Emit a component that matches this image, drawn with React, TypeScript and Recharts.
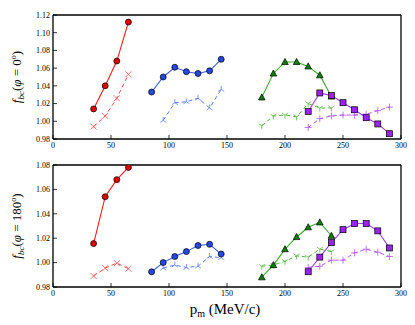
import { LineChart, Line, XAxis, YAxis, Label } from "recharts";

// momentum bins (MeV/c)
const redX = [35, 45, 55, 65];
const blueX = [85, 95, 105, 115, 125, 135, 145];
const blueDashX = [95, 105, 115, 125, 135, 145];
const greenX = [180, 190, 200, 210, 220, 230, 240];
const purpleX = [220, 230, 240, 250, 260, 270, 280, 290];

// phi = 0
const redSolid0 = [1.014, 1.04, 1.068, 1.112];
const redDash0 = [0.994, 1.006, 1.026, 1.053];
const blueSolid0 = [1.033, 1.05, 1.061, 1.056, 1.054, 1.057, 1.07];
const blueDash0 = [1.001, 1.021, 1.022, 1.026, 1.015, 1.036];
const greenSolid0 = [1.027, 1.054, 1.067, 1.067, 1.062, 1.052, 1.028];
const greenDash0 = [0.995, 1.006, 1.007, 1.005, 1.02, 1.015, 1.015];
const purpleSolid0 = [1.011, 1.032, 1.029, 1.021, 1.013, 1.004, 0.997, 0.986];
const purpleDash0 = [0.993, 1.003, 1.006, 1.007, 1.007, 1.008, 1.012, 1.016];

// phi = 180
const redSolid180 = [1.0156, 1.054, 1.068, 1.078];
const redDash180 = [0.989, 0.9955, 0.9996, 0.995];
const blueSolid180 = [0.9925, 1.0, 1.005, 1.009, 1.014, 1.015, 1.007];
const blueDash180 = [0.9955, 0.998, 0.996, 0.997, 1.005, 1.004];
const greenSolid180 = [0.988, 0.998, 1.011, 1.021, 1.029, 1.033, 1.022];
const greenDash180 = [0.997, 0.998, 1.001, 1.0055, 1.0045, 1.011, 1.009];
const purpleSolid180 = [0.9925, 1.0045, 1.0164, 1.027, 1.032, 1.032, 1.026, 1.012];
const purpleDash180 = [0.996, 0.997, 1.002, 1.002, 1.008, 1.011, 1.0085, 1.005];

const xTicks = [0, 50, 100, 150, 200, 250, 300];
const yTicksTop = [0.98, 1.0, 1.02, 1.04, 1.06, 1.08, 1.1, 1.12];
const yTicksBottom = [0.98, 1.0, 1.02, 1.04, 1.06, 1.08];

const rows = (xs: number[], ys: number[]) => xs.map((x, i) => ({ x, y: ys[i] }));

const FONT = "Liberation Serif";
const tickStyle = { fontFamily: FONT, fontSize: 8, fill: "#000" };

const circle = (fill: string) => (p: any) => (
  <circle key={p.index} cx={p.cx} cy={p.cy} r={3} fill={fill} stroke="#000" strokeWidth={0.7} />
);
const square = (fill: string) => (p: any) => (
  <rect key={p.index} x={p.cx - 3} y={p.cy - 3} width={6} height={6} fill={fill} stroke="#000" strokeWidth={0.7} />
);
const triangle = (fill: string) => (p: any) => (
  <polygon
    key={p.index}
    points={`${p.cx},${p.cy - 3.5} ${p.cx - 3.3},${p.cy + 2.6} ${p.cx + 3.3},${p.cy + 2.6}`}
    fill={fill}
    stroke="#000"
    strokeWidth={0.7}
  />
);
const cross = (color: string) => (p: any) => (
  <path key={p.index} d={`M${p.cx - 3},${p.cy - 3}L${p.cx + 3},${p.cy + 3}M${p.cx - 3},${p.cy + 3}L${p.cx + 3},${p.cy - 3}`} stroke={color} strokeWidth={0.8} fill="none" />
);
const plus = (color: string) => (p: any) => (
  <path key={p.index} d={`M${p.cx - 3.5},${p.cy}L${p.cx + 3.5},${p.cy}M${p.cx},${p.cy - 3.5}L${p.cx},${p.cy + 3.5}`} stroke={color} strokeWidth={0.8} fill="none" />
);
const triUp = (color: string) => (p: any) => (
  <path key={p.index} d={`M${p.cx},${p.cy}L${p.cx},${p.cy - 3.5}M${p.cx},${p.cy}L${p.cx - 3},${p.cy + 2}M${p.cx},${p.cy}L${p.cx + 3},${p.cy + 2}`} stroke={color} strokeWidth={0.8} fill="none" />
);
const triDown = (color: string) => (p: any) => (
  <path key={p.index} d={`M${p.cx},${p.cy}L${p.cx},${p.cy + 3.5}M${p.cx},${p.cy}L${p.cx - 3},${p.cy - 2}M${p.cx},${p.cy}L${p.cx + 3},${p.cy - 2}`} stroke={color} strokeWidth={0.8} fill="none" />
);

const yLabel = (angle: string) => (props: any) => {
  const vb = props.viewBox;
  const cy = vb.y + vb.height / 2;
  return (
    <text transform={`translate(21, ${cy}) rotate(-90)`} textAnchor="middle" fontFamily={FONT} fontSize={13} fill="#000">
      <tspan fontStyle="italic">f</tspan>
      <tspan fontStyle="italic" fontSize={9} dy={3}>bc</tspan>
      <tspan dy={-3}>(</tspan>
      <tspan fontStyle="italic">φ</tspan>
      <tspan>{` = ${angle}`}</tspan>
      <tspan fontSize={8} dy={-5}>o</tspan>
      <tspan dy={5}>)</tspan>
    </text>
  );
};

const xLabel = (props: any) => {
  const vb = props.viewBox;
  return (
    <text x={vb.x + vb.width / 2 - 2} y={vb.y + 27} textAnchor="middle" fontFamily={FONT} fontSize={15} fill="#000">
      <tspan>p</tspan>
      <tspan fontSize={10} dy={3}>m</tspan>
      <tspan dy={-3}> (MeV/c)</tspan>
    </text>
  );
};

type Panel = {
  red: number[]; redD: number[]; blue: number[]; blueD: number[];
  green: number[]; greenD: number[]; purple: number[]; purpleD: number[];
};

function PanelChart({ d, yMax, yTicks, angle, height, xAxisH, showXLabel }: {
  d: Panel; yMax: number; yTicks: number[]; angle: string; height: number; xAxisH: number; showXLabel: boolean;
}) {
  const dash = "4 3";
  return (
    <LineChart width={415} height={height} margin={{ top: 14, right: 13, left: 0, bottom: 0 }}>
      <XAxis
        xAxisId="b"
        dataKey="x"
        type="number"
        domain={[0, 300]}
        ticks={xTicks}
        allowDataOverflow
        height={xAxisH}
        tickSize={-4}
        tickMargin={7}
        tick={tickStyle}
        stroke="#000"
        axisLine={{ stroke: "#000", strokeWidth: 1.3 }}
        tickLine={{ stroke: "#000", strokeWidth: 0.8 }}
        interval={0}
      >
        {showXLabel && <Label content={xLabel} />}
      </XAxis>
      <XAxis
        xAxisId="t"
        orientation="top"
        dataKey="x"
        type="number"
        domain={[0, 300]}
        ticks={xTicks}
        allowDataOverflow
        height={1}
        tickSize={-4}
        tick={false}
        axisLine={{ stroke: "#000", strokeWidth: 1.3 }}
        tickLine={{ stroke: "#000", strokeWidth: 0.8 }}
        interval={0}
      />
      <YAxis
        yAxisId="l"
        type="number"
        domain={[0.98, yMax]}
        ticks={yTicks}
        allowDataOverflow
        width={53}
        tickSize={-4}
        tickMargin={7}
        tick={tickStyle}
        tickFormatter={(v: number) => v.toFixed(2)}
        axisLine={{ stroke: "#000", strokeWidth: 1.3 }}
        tickLine={{ stroke: "#000", strokeWidth: 0.8 }}
        interval={0}
      >
        <Label content={yLabel(angle)} />
      </YAxis>
      <YAxis
        yAxisId="r"
        orientation="right"
        type="number"
        domain={[0.98, yMax]}
        ticks={yTicks}
        allowDataOverflow
        width={1}
        tickSize={-4}
        tick={false}
        axisLine={{ stroke: "#000", strokeWidth: 1.3 }}
        tickLine={{ stroke: "#000", strokeWidth: 0.8 }}
        interval={0}
      />

      <Line xAxisId="b" yAxisId="l" data={rows(redX, d.redD)} dataKey="y" stroke="#ff4a4a" strokeWidth={1} strokeDasharray={dash} dot={cross("#ff4a4a")} isAnimationActive={false} />
      <Line xAxisId="b" yAxisId="l" data={rows(blueDashX, d.blueD)} dataKey="y" stroke="#5b7cff" strokeWidth={1} strokeDasharray={dash} dot={triUp("#5b7cff")} isAnimationActive={false} />
      <Line xAxisId="b" yAxisId="l" data={rows(greenX, d.greenD)} dataKey="y" stroke="#4fb83a" strokeWidth={1} strokeDasharray={dash} dot={triDown("#4fb83a")} isAnimationActive={false} />
      <Line xAxisId="b" yAxisId="l" data={rows(purpleX, d.purpleD)} dataKey="y" stroke="#b555ff" strokeWidth={1} strokeDasharray={dash} dot={plus("#b555ff")} isAnimationActive={false} />

      <Line xAxisId="b" yAxisId="l" data={rows(redX, d.red)} dataKey="y" stroke="#ff1a1a" strokeWidth={1.1} dot={circle("#e00000")} isAnimationActive={false} />
      <Line xAxisId="b" yAxisId="l" data={rows(blueX, d.blue)} dataKey="y" stroke="#3a5cf0" strokeWidth={1.1} dot={circle("#2448e0")} isAnimationActive={false} />
      <Line xAxisId="b" yAxisId="l" data={rows(greenX, d.green)} dataKey="y" stroke="#36ad22" strokeWidth={1.1} dot={triangle("#0e7e0e")} isAnimationActive={false} />
      <Line xAxisId="b" yAxisId="l" data={rows(purpleX, d.purple)} dataKey="y" stroke="#a040f0" strokeWidth={1.1} dot={square("#9a22ee")} isAnimationActive={false} />
    </LineChart>
  );
}

export default function App() {
  const top: Panel = {
    red: redSolid0, redD: redDash0, blue: blueSolid0, blueD: blueDash0,
    green: greenSolid0, greenD: greenDash0, purple: purpleSolid0, purpleD: purpleDash0,
  };
  const bottom: Panel = {
    red: redSolid180, redD: redDash180, blue: blueSolid180, blueD: blueDash180,
    green: greenSolid180, greenD: greenDash180, purple: purpleSolid180, purpleD: purpleDash180,
  };
  return (
    <div style={{ position: "absolute", left: 0, top: 0, width: 415, height: 325, background: "#fff" }}>
      <div style={{ position: "absolute", left: 0, top: 0 }}>
        <PanelChart d={top} yMax={1.12} yTicks={yTicksTop} angle="0" height={160} xAxisH={21} showXLabel={false} />
      </div>
      <div style={{ position: "absolute", left: 0, top: 150 }}>
        <PanelChart d={bottom} yMax={1.08} yTicks={yTicksBottom} angle="180" height={175} xAxisH={38} showXLabel={true} />
      </div>
    </div>
  );
}
